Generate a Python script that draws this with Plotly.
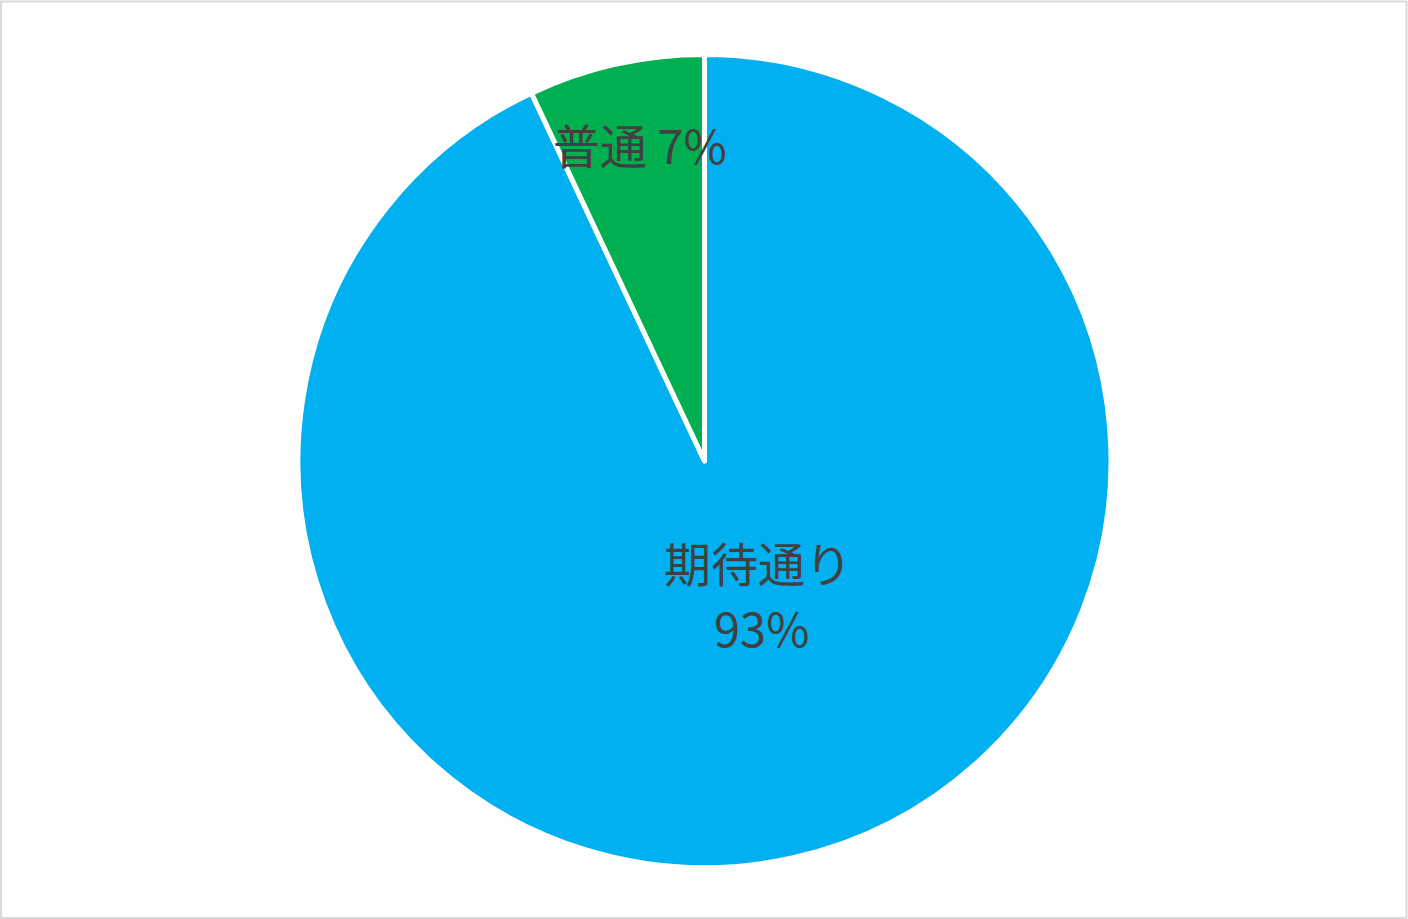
import plotly.graph_objects as go

labels = ["期待通り", "普通"]
values = [93, 7]
colors = ["#00B0F0", "#00B050"]

W, H = 1408, 919
cx, cy, r = 704.5, 461, 406.5

fig = go.Figure(go.Pie(
    labels=labels,
    values=values,
    sort=False,
    direction="clockwise",
    rotation=0,
    textinfo="none",
    hoverinfo="label+percent",
    marker=dict(colors=colors, line=dict(color="white", width=5)),
    domain=dict(x=[(cx - r) / W, (cx + r) / W], y=[(H - cy - r) / H, (H - cy + r) / H]),
    showlegend=False,
))

font = dict(family="Noto Sans CJK JP, sans-serif", size=47, color="#404040")
pct = [f"{v}%" for v in values]
fig.add_annotation(x=758 / W, y=1 - 561 / H, xref="paper", yref="paper", text=labels[0],
                   showarrow=False, font=font, xanchor="center", yanchor="middle")
fig.add_annotation(x=762 / W, y=1 - 626 / H, xref="paper", yref="paper", text=pct[0],
                   showarrow=False, font=font, xanchor="center", yanchor="middle")
fig.add_annotation(x=640 / W, y=1 - 144 / H, xref="paper", yref="paper", text=f"{labels[1]} {pct[1]}",
                   showarrow=False, font=font, xanchor="center", yanchor="middle")

fig.add_shape(type="rect", xref="paper", yref="paper", x0=1 / W, y0=1 / H, x1=1 - 1.5 / W, y1=1 - 1.5 / H,
              line=dict(color="#D9D9D9", width=2))

fig.update_layout(width=W, height=H, margin=dict(l=0, r=0, t=0, b=0),
                  paper_bgcolor="white", plot_bgcolor="white")
fig.write_html("out.html", config={"displayModeBar": False},
               post_script="document.body.style.margin='0';document.body.style.overflow='hidden';")
